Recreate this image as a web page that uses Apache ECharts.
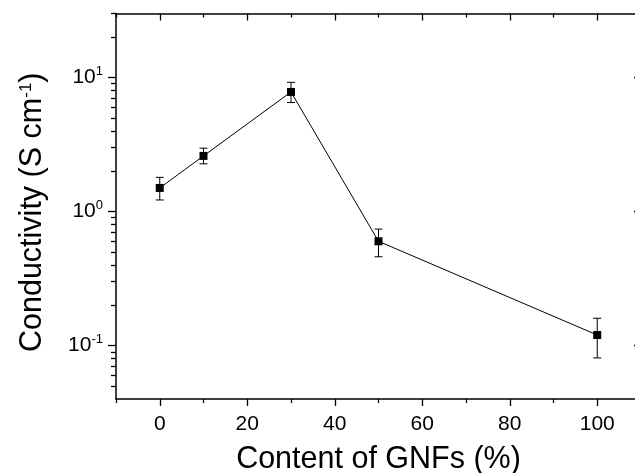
<!DOCTYPE html>
<html>
<head>
<meta charset="utf-8">
<script src="https://cdn.jsdelivr.net/npm/echarts@6/dist/echarts.min.js"></script>
<style>
  html, body { margin: 0; padding: 0; background: #fff; }
  #chart { width: 635px; height: 473px; }
</style>
</head>
<body>
<div id="chart"></div>
<script>
// GNF content (%) and measured conductivity (S/cm) with error range
const content = [0, 10, 30, 50, 100];
const conductivity = [1.5, 2.6, 7.8, 0.6, 0.12];
const errorLow = [1.22, 2.27, 6.5, 0.46, 0.081];
const errorHigh = [1.80, 2.97, 9.2, 0.74, 0.16];

// axis tick positions
const xMajorTicks = [0, 20, 40, 60, 80, 100];
const xMinorTicks = [-10, 10, 30, 50, 70, 90, 110];
const yMajorTicks = [0.1, 1, 10];
const yMinorTicks = [0.05, 0.06, 0.07, 0.08, 0.09,
  0.2, 0.3, 0.4, 0.5, 0.6, 0.7, 0.8, 0.9,
  2, 3, 4, 5, 6, 7, 8, 9, 20, 30];

const FONT = "'Liberation Sans', Arial, Helvetica, sans-serif";
const INK = '#000';

const X_MIN = -10, X_MAX = 110;
const Y_MIN = 0.04, Y_MAX = 30;

function xAxisBase(extra) {
  return Object.assign({
    type: 'value', min: X_MIN, max: X_MAX,
    splitLine: { show: false },
    axisLine: { show: false, onZero: false },
    axisLabel: { show: false },
    axisTick: { show: false }
  }, extra);
}
function yAxisBase(extra) {
  return Object.assign({
    type: 'log', logBase: 10, min: Y_MIN, max: Y_MAX,
    splitLine: { show: false },
    axisLine: { show: false, onZero: false },
    axisLabel: { show: false },
    axisTick: { show: false }
  }, extra);
}

const superscript = (exp) => '{b|10}{s|' + exp + '}';

const option = {
  animation: false,
  backgroundColor: '#fff',
  grid: { left: 116, top: 13.5, right: -6, bottom: 74, outerBoundsMode: 'none', containLabel: false },
  xAxis: [
    xAxisBase({
      position: 'bottom',
      name: 'Content of GNFs (%)',
      nameLocation: 'middle',
      nameGap: 45,
      nameTextStyle: { fontFamily: FONT, fontSize: 30.5, color: INK },
      axisLine: { show: true, onZero: false, lineStyle: { color: INK, width: 1.5 } },
      axisTick: { show: true, length: 7, customValues: xMajorTicks, lineStyle: { color: INK, width: 1.3 } },
      axisLabel: { show: true, customValues: xMajorTicks, margin: 15, fontFamily: FONT, fontSize: 21, color: INK }
    }),
    xAxisBase({
      position: 'bottom',
      axisTick: { show: true, length: 4, customValues: xMinorTicks, lineStyle: { color: INK, width: 1.3 } }
    }),
    xAxisBase({
      position: 'top',
      axisLine: { show: true, onZero: false, lineStyle: { color: INK, width: 1.5 } },
      axisTick: { show: true, inside: true, length: 7, customValues: xMajorTicks, lineStyle: { color: INK, width: 1.3 } }
    }),
    xAxisBase({
      position: 'top',
      axisTick: { show: true, inside: true, length: 4, customValues: xMinorTicks, lineStyle: { color: INK, width: 1.3 } }
    })
  ],
  yAxis: [
    yAxisBase({
      position: 'left',
      name: 'Conductivity (S cm{s|-1})',
      nameLocation: 'middle',
      nameGap: 68,
      nameTextStyle: {
        fontFamily: FONT, fontSize: 30.5, color: INK, lineHeight: 30,
        padding: [0, 12, 0, 0],
        rich: {
          s: { fontFamily: FONT, fontSize: 17, lineHeight: 17, verticalAlign: 'top', color: INK }
        }
      },
      axisLine: { show: true, onZero: false, lineStyle: { color: INK, width: 1.5 } },
      axisTick: { show: true, length: 8, customValues: yMajorTicks, lineStyle: { color: INK, width: 1.3 } },
      axisLabel: {
        show: true, customValues: yMajorTicks, margin: 13,
        formatter: (v) => superscript(Math.round(Math.log10(v))),
        rich: {
          b: { fontFamily: FONT, fontSize: 21, lineHeight: 25, color: INK },
          s: { fontFamily: FONT, fontSize: 13, lineHeight: 13, verticalAlign: 'top', color: INK }
        }
      }
    }),
    yAxisBase({
      position: 'left',
      axisTick: { show: true, length: 5, customValues: yMinorTicks, lineStyle: { color: INK, width: 1.3 } }
    }),
    yAxisBase({
      position: 'right',
      axisLine: { show: true, onZero: false, lineStyle: { color: INK, width: 1.5 } },
      axisTick: { show: true, inside: true, length: 7, customValues: yMajorTicks, lineStyle: { color: INK, width: 1.3 } }
    })
  ],
  series: [
    {
      // vertical error bars with caps
      type: 'custom',
      xAxisIndex: 0,
      yAxisIndex: 0,
      z: 1,
      clip: false,
      encode: { x: 0, y: [1, 2] },
      data: content.map((x, i) => [x, errorLow[i], errorHigh[i]]),
      renderItem: (params, api) => {
        const x = api.value(0);
        const lo = api.coord([x, api.value(1)]);
        const hi = api.coord([x, api.value(2)]);
        const half = 4;
        const style = { stroke: INK, lineWidth: 1 };
        return {
          type: 'group',
          children: [
            { type: 'line', shape: { x1: lo[0], y1: lo[1], x2: hi[0], y2: hi[1] }, style },
            { type: 'line', shape: { x1: hi[0] - half, y1: hi[1], x2: hi[0] + half, y2: hi[1] }, style },
            { type: 'line', shape: { x1: lo[0] - half, y1: lo[1], x2: lo[0] + half, y2: lo[1] }, style }
          ]
        };
      }
    },
    {
      type: 'line',
      xAxisIndex: 0,
      yAxisIndex: 0,
      z: 2,
      data: content.map((x, i) => [x, conductivity[i]]),
      symbol: 'rect',
      symbolSize: 8,
      showSymbol: true,
      itemStyle: { color: INK },
      lineStyle: { color: INK, width: 1 },
      emphasis: { disabled: true }
    }
  ]
};

const chart = echarts.init(document.getElementById('chart'), null, { renderer: 'canvas' });
chart.setOption(option);
</script>
</body>
</html>
